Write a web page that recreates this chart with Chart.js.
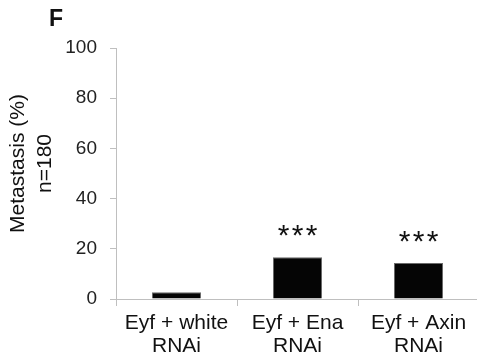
<!DOCTYPE html>
<html>
<head>
<meta charset="utf-8">
<script src="https://cdn.jsdelivr.net/npm/chart.js@4"></script>
<style>
html,body{margin:0;padding:0;background:#fff;overflow:hidden;}
#wrap{width:480px;height:364px;}
</style>
</head>
<body>
<div id="wrap"><canvas id="c" width="480" height="364"></canvas></div>
<script>
const categories = [['Eyf + white','RNAi'], ['Eyf + Ena','RNAi'], ['Eyf + Axin','RNAi']];
const metastasis = [2.7, 16.6, 14.3];
const significance = ['', '***', '***'];
const yTicks = [0, 20, 40, 60, 80, 100];
const yTitle = ['Metastasis (%)', 'n=180'];
const panelLabel = 'F';

const FONT = '"Liberation Sans", Arial, sans-serif';
const AXIS = '#bfbfbf';

const overlay = {
  id: 'overlay',
  afterDatasetsDraw(chart) {
    const ctx = chart.ctx;
    const meta = chart.getDatasetMeta(0);
    ctx.save();
    ctx.fillStyle = '#111';
    ctx.font = '30px ' + FONT;
    ctx.textAlign = 'center';
    ctx.textBaseline = 'alphabetic';
    meta.data.forEach((bar, i) => {
      const s = significance[i];
      if (!s) return;
      const n = s.length;
      for (let k = 0; k < n; k++) {
        const x = bar.x + (k - (n - 1) / 2) * 14;
        ctx.fillText(s[k], x, bar.y - 29 + 17);
      }
    });
    ctx.restore();
  },
  afterDraw(chart) {
    const ctx = chart.ctx;
    const area = chart.chartArea;
    ctx.save();
    ctx.fillStyle = '#111';
    ctx.font = 'bold 23px ' + FONT;
    ctx.textAlign = 'center';
    ctx.textBaseline = 'middle';
    ctx.fillText(panelLabel, 56, 20);
    ctx.font = '21px ' + FONT;
    const cy = (area.top + area.bottom) / 2 - 10;
    ctx.translate(18, cy);
    ctx.rotate(-Math.PI / 2);
    ctx.fillText(yTitle[0], 0, 0);
    ctx.fillText(yTitle[1], 0, 27);
    ctx.restore();
  }
};

new Chart(document.getElementById('c'), {
  type: 'bar',
  data: {
    labels: categories,
    datasets: [{
      data: metastasis,
      backgroundColor: '#050505',
      borderColor: '#6a6a6a',
      borderWidth: 1,
      barPercentage: 0.81,
      categoryPercentage: 0.5
    }]
  },
  options: {
    responsive: false,
    devicePixelRatio: 1,
    animation: false,
    layout: { padding: { top: 48, left: 0, right: 1, bottom: 0 } },
    plugins: { legend: { display: false }, tooltip: { enabled: false } },
    scales: {
      x: {
        grid: { offset: true, drawOnChartArea: false, color: AXIS, tickLength: 7, lineWidth: 1 },
        border: { color: AXIS, width: 1 },
        ticks: { color: '#111', font: { family: FONT, size: 21, lineHeight: 1.1 }, padding: 6, maxRotation: 0, autoSkip: false },
        afterFit(s) { s.height = 65; }
      },
      y: {
        min: 0, max: 100,
        afterBuildTicks(s) { s.ticks = yTicks.map(v => ({ value: v })); },
        grid: { drawOnChartArea: false, color: AXIS, tickLength: 6, lineWidth: 1 },
        border: { color: AXIS, width: 1 },
        ticks: { color: '#222', font: { family: FONT, size: 19 }, padding: 13 },
        afterFit(s) { s.width = 116; }
      }
    }
  },
  plugins: [overlay]
});
</script>
</body>
</html>
